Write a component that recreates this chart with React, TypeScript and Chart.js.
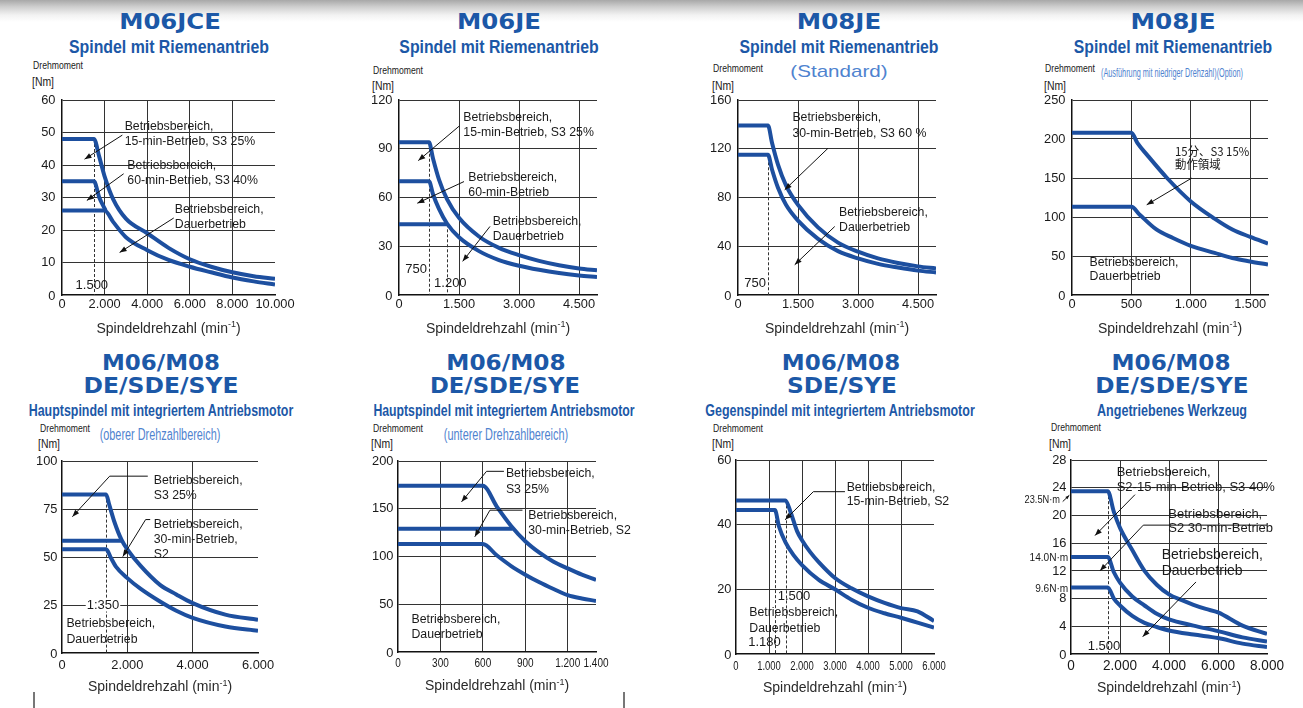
import React, { useEffect, useRef } from 'react';
import { Chart, registerables } from 'chart.js';

Chart.register(...registerables);

type Pt = [number, number];

// ================= DATA =================
// M06JCE – Spindel mit Riemenantrieb
const M06JCE_X_TICKS = [0, 2000, 4000, 6000, 8000, 10000];
const M06JCE_X_LABELS = ['0', '2.000', '4.000', '6.000', '8.000', '10.000'];
const M06JCE_Y_TICKS = [0, 10, 20, 30, 40, 50, 60];
const M06JCE_S3_25: Pt[] = [[0, 48], [1500, 48], [1750, 42.5], [2000, 36.5], [2400, 29.5], [3000, 23.5], [4000, 19], [5000, 14.5], [6000, 11], [7000, 8.7], [8000, 7], [9000, 5.8], [10000, 5]];
const M06JCE_S3_40: Pt[] = [[0, 35], [1500, 35], [1750, 30], [2050, 26]];
const M06JCE_DAUER: Pt[] = [[0, 26], [2000, 26], [2400, 22.5], [3000, 17.8], [4000, 13.8], [5000, 10.8], [6000, 8.7], [7000, 7], [8000, 5.4], [9000, 4.2], [10000, 3.2]];

// M06JE – Spindel mit Riemenantrieb
const M06JE_X_TICKS = [0, 1500, 3000, 4500];
const M06JE_X_LABELS = ['0', '1.500', '3.000', '4.500'];
const M06JE_Y_TICKS = [0, 30, 60, 90, 120];
const M06JE_S3_25: Pt[] = [[0, 94], [750, 94], [850, 84], [1000, 71], [1200, 59], [1500, 47.5], [2000, 36], [2500, 29], [3000, 24.5], [3500, 21], [4000, 18.3], [4500, 16.3], [4950, 15.2]];
const M06JE_60MIN: Pt[] = [[0, 70], [750, 70], [850, 62], [1000, 53], [1200, 44], [1500, 35.5], [2000, 27], [2500, 21.5], [3000, 18], [3500, 15.5], [4000, 13.5], [4500, 12], [4950, 11]];
const M06JE_DAUER: Pt[] = [[0, 43.5], [1200, 43.5]];

// M08JE – Standard
const M08JE_X_TICKS = [0, 1500, 3000, 4500];
const M08JE_X_LABELS = ['0', '1.500', '3.000', '4.500'];
const M08JE_Y_TICKS = [0, 40, 80, 120, 160];
const M08JE_S3_60: Pt[] = [[0, 139], [750, 139], [850, 125], [1000, 107], [1200, 90], [1500, 74], [2000, 55.5], [2500, 43], [3000, 35.5], [3500, 30], [4000, 26.3], [4500, 23.5], [4950, 21.8]];
const M08JE_DAUER: Pt[] = [[0, 115], [750, 115], [850, 103], [1000, 88], [1200, 74], [1500, 61], [2000, 46], [2500, 36], [3000, 30], [3500, 25.5], [4000, 22.5], [4500, 20], [4950, 18.5]];

// M08JE – niedrige Drehzahl (Option)
const M08JEL_X_TICKS = [0, 500, 1000, 1500];
const M08JEL_X_LABELS = ['0', '500', '1.000', '1.500'];
const M08JEL_Y_TICKS = [0, 50, 100, 150, 200, 250];
const M08JEL_S3_15: Pt[] = [[0, 208], [500, 208], [550, 195], [630, 180], [800, 150], [1000, 120], [1200, 98], [1350, 84], [1500, 74.5], [1650, 66]];
const M08JEL_DAUER: Pt[] = [[0, 113], [500, 113], [570, 103], [710, 84], [850, 73], [1000, 63], [1200, 54], [1350, 47.5], [1500, 43], [1650, 39]];

// Hauptspindel – oberer Drehzahlbereich
const HSO_X_TICKS = [0, 2000, 4000, 6000];
const HSO_X_LABELS = ['0', '2.000', '4.000', '6.000'];
const HSO_Y_TICKS = [0, 25, 50, 75, 100];
const HSO_S3_25: Pt[] = [[0, 82.5], [1350, 82.5], [1450, 77], [1600, 68.5], [1820, 59], [2000, 54], [2400, 45.5], [3000, 35.5], [3500, 30.5], [4000, 26], [5000, 20], [6000, 17.3]];
const HSO_S2_30: Pt[] = [[0, 58.5], [1820, 58.5]];
const HSO_DAUER: Pt[] = [[0, 54], [1350, 54], [1500, 49.5], [1650, 45], [2000, 39], [2400, 33.5], [3000, 26.8], [3500, 22], [4000, 18.3], [5000, 13.8], [6000, 11.6]];

// Hauptspindel – unterer Drehzahlbereich
const HSU_X_TICKS = [0, 300, 600, 900, 1200, 1400];
const HSU_X_LABELS = ['0', '300', '600', '900', '1.200', '1.400'];
const HSU_Y_TICKS = [0, 50, 100, 150, 200];
const HSU_S3_25: Pt[] = [[0, 174], [600, 174], [700, 152], [800, 132], [900, 116], [1000, 104], [1100, 94.5], [1200, 87.5], [1300, 81], [1400, 75.5]];
const HSU_S2_30: Pt[] = [[0, 129], [810, 129]];
const HSU_DAUER: Pt[] = [[0, 113], [600, 113], [700, 101], [800, 90], [900, 81], [1000, 73], [1100, 66], [1200, 59.5], [1300, 56], [1400, 53.5]];

// Gegenspindel
const GS_X_TICKS = [0, 1000, 2000, 3000, 4000, 5000, 6000];
const GS_X_LABELS = ['0', '1.000', '2.000', '3.000', '4.000', '5.000', '6.000'];
const GS_Y_TICKS = [0, 20, 40, 60];
const GS_S2_15: Pt[] = [[0, 47.5], [1500, 47.5], [1650, 44], [1850, 38], [2000, 35.2], [2250, 31.5], [2500, 28.5], [3000, 23.5], [3500, 20.3], [4000, 17.8], [4500, 15.8], [5000, 14.2], [5500, 13.2], [6000, 10.2]];
const GS_DAUER: Pt[] = [[0, 44.5], [1180, 44.5], [1300, 39.5], [1500, 34.5], [1750, 30.5], [2000, 27.5], [2500, 23], [3000, 20], [3500, 16.8], [4000, 14.3], [4500, 12.6], [5000, 11.2], [5500, 9.7], [6000, 8.2]];

// Angetriebenes Werkzeug
const WZ_X_TICKS = [0, 2000, 4000, 6000, 8000];
const WZ_X_LABELS = ['0', '2.000', '4.000', '6.000', '8.000'];
const WZ_Y_TICKS = [0, 4, 8, 12, 16, 20, 24, 28];
const WZ_S3_40: Pt[] = [[0, 23.5], [1500, 23.5], [1750, 20.5], [2000, 18.2], [2500, 15], [3000, 12], [3500, 10], [4000, 8.6], [4500, 7.8], [5000, 7.1], [5500, 6.5], [6000, 6], [7000, 4.1], [8000, 2.9]];
const WZ_S2_30: Pt[] = [[0, 14], [1500, 14], [1750, 11.8], [2000, 10.3], [2500, 8.3], [3000, 7], [3500, 5.8], [4000, 5], [5000, 4.1], [6000, 3.3], [7000, 2.4], [8000, 1.8]];
const WZ_DAUER: Pt[] = [[0, 9.6], [1500, 9.6], [1750, 8], [2000, 7], [2500, 5.5], [3000, 4.5], [3500, 3.9], [4000, 3.4], [5000, 2.8], [6000, 2.3], [7000, 1.5], [8000, 1]];

// ================= STYLE =================
const FONT = '"Liberation Sans", Arial, Helvetica, sans-serif';
const TITLE_FONT = '"DejaVu Sans", "Liberation Sans", sans-serif';
const CJK_FONT = '"Noto Sans CJK JP", "Noto Sans CJK SC", sans-serif';
const CURVE = '#1d4f9f';
const GRID = '#333333';
const AXIS = '#111111';
const TEXT = '#1a1a1a';
const TITLE = '#1c58a7';
const LIGHT = '#4f83cf';
const PADL = 50, PADT = 10, PADR = 42, PADB = 48;
const NOTE_SIZE = 12.3;

interface Note { x: number; y: number; lines: string[]; size?: number; lh?: number; align?: CanvasTextAlign; sx?: number; bg?: boolean; font?: string }
interface Arrow { pts: Pt[]; head?: number }
interface Dash { x: number; y: number }
interface Panel {
  plot: [number, number, number, number];
  xMax: number; yMax: number;
  xTicks: number[]; xLabels: string[]; yTicks: number[];
  xTick: { size: number; sx: number; dy: number };
  yTick: { size: number; sx: number; dx: number };
  titleDy: number;
  series: Pt[][];
  dashes: Dash[];
  notes: Note[];
  arrows: Arrow[];
}

const ROW1_XT = { size: 13.5, sx: 0.95, dy: 9.5 };
const ROW1_YT = { size: 13.5, sx: 0.95, dx: 6.5 };
const ROW2_XT = { size: 13.5, sx: 0.95, dy: 12 };
const ROW2_YT = { size: 13.5, sx: 0.95, dx: 4.5 };

const PANELS: Panel[] = [
  {
    plot: [62, 100, 275, 295], xMax: 10000, yMax: 60,
    xTicks: M06JCE_X_TICKS, xLabels: M06JCE_X_LABELS, yTicks: M06JCE_Y_TICKS,
    xTick: ROW1_XT, yTick: ROW1_YT, titleDy: 34,
    series: [M06JCE_S3_25, M06JCE_S3_40, M06JCE_DAUER],
    dashes: [{ x: 1500, y: 48 }],
    notes: [
      { x: 2941, y: 51.8, lines: ['Betriebsbereich,', '15-min-Betrieb, S3 25%'] },
      { x: 3068, y: 39.8, lines: ['Betriebsbereich,', '60-min-Betrieb, S3 40%'] },
      { x: 5294, y: 26.2, lines: ['Betriebsbereich,', 'Dauerbetrieb'] },
      { x: 1400, y: 2.9, lines: ['1.500'], align: 'center', size: 13 },
    ],
    arrows: [
      { pts: [[2833, 49.2], [1059, 41.8]] },
      { pts: [[2894, 37.3], [1167, 29.1]] },
      { pts: [[5247, 23.7], [2706, 13.1]] },
    ],
  },
  {
    plot: [399, 100, 597, 295], xMax: 4950, yMax: 120,
    xTicks: M06JE_X_TICKS, xLabels: M06JE_X_LABELS, yTicks: M06JE_Y_TICKS,
    xTick: ROW1_XT, yTick: ROW1_YT, titleDy: 34,
    series: [M06JE_S3_25, M06JE_60MIN, M06JE_DAUER],
    dashes: [{ x: 750, y: 90 }, { x: 1200, y: 43.5 }],
    notes: [
      { x: 1608, y: 109.4, lines: ['Betriebsbereich,', '15-min-Betrieb, S3 25%'], lh: 15.3 },
      { x: 1733, y: 72.5, lines: ['Betriebsbereich,', '60-min-Betrieb'], lh: 15.3 },
      { x: 2342, y: 45.2, lines: ['Betriebsbereich,', 'Dauerbetrieb'], lh: 15.3 },
      { x: 700, y: 16, lines: ['750'], align: 'right', size: 13 },
      { x: 1283, y: 6.9, lines: ['1.200'], align: 'center', size: 13 },
    ],
    arrows: [
      { pts: [[1508, 104], [483, 82.7]] },
      { pts: [[1625, 69.8], [458, 56.5]] },
      { pts: [[2275, 42.2], [1592, 20.7]] },
    ],
  },
  {
    plot: [738, 100, 936, 295], xMax: 4950, yMax: 160,
    xTicks: M08JE_X_TICKS, xLabels: M08JE_X_LABELS, yTicks: M08JE_Y_TICKS,
    xTick: ROW1_XT, yTick: ROW1_YT, titleDy: 34,
    series: [M08JE_S3_60, M08JE_DAUER],
    dashes: [{ x: 750, y: 113 }],
    notes: [
      { x: 1360, y: 145.5, lines: ['Betriebsbereich,', '30-min-Betrieb, S3 60 %'], lh: 15.5 },
      { x: 2525, y: 67.2, lines: ['Betriebsbereich,', 'Dauerbetrieb'], lh: 15 },
      { x: 700, y: 9.8, lines: ['750'], align: 'right', size: 13 },
    ],
    arrows: [
      { pts: [[2250, 120.4], [1168, 86.3]] },
      { pts: [[2418, 56.2], [1418, 24.8]] },
    ],
  },
  {
    plot: [1072, 100, 1268, 295], xMax: 1650, yMax: 250,
    xTicks: M08JEL_X_TICKS, xLabels: M08JEL_X_LABELS, yTicks: M08JEL_Y_TICKS,
    xTick: ROW1_XT, yTick: ROW1_YT, titleDy: 34,
    series: [M08JEL_S3_15, M08JEL_DAUER],
    dashes: [],
    notes: [
      { x: 867, y: 183.8, lines: ['15分、S3 15%', '動作領域'], lh: 13.3, size: 12, font: CJK_FONT, sx: 0.95 },
      { x: 148, y: 41, lines: ['Betriebsbereich,', 'Dauerbetrieb'], lh: 14 },
    ],
    arrows: [
      { pts: [[1007, 149.8], [629, 115.6]] },
    ],
  },
  {
    plot: [62, 461, 258, 653], xMax: 6000, yMax: 100,
    xTicks: HSO_X_TICKS, xLabels: HSO_X_LABELS, yTicks: HSO_Y_TICKS,
    xTick: ROW2_XT, yTick: ROW2_YT, titleDy: 34.5,
    series: [HSO_S3_25, HSO_S2_30, HSO_DAUER],
    dashes: [{ x: 1350, y: 82.5 }],
    notes: [
      { x: 2807, y: 90, lines: ['Betriebsbereich,', 'S3 25%'], lh: 15 },
      { x: 2807, y: 67.1, lines: ['Betriebsbereich,', '30-min-Betrieb,', 'S2'], lh: 15.2 },
      { x: 135, y: 15.1, lines: ['Betriebsbereich,', 'Dauerbetrieb'], lh: 15.5 },
      { x: 1255, y: 25, lines: ['1:350'], align: 'center', bg: true, size: 13 },
    ],
    arrows: [
      { pts: [[2626, 92.1], [1460, 92.1], [318, 71]] },
      { pts: [[2700, 69.5], [2560, 69.5], [1861, 50.2]] },
    ],
  },
  {
    plot: [398, 461, 596, 652], xMax: 1400, yMax: 200,
    xTicks: HSU_X_TICKS, xLabels: HSU_X_LABELS, yTicks: HSU_Y_TICKS,
    xTick: { size: 12.5, sx: 0.8, dy: 12 }, yTick: ROW2_YT, titleDy: 34.5,
    series: [HSU_S3_25, HSU_S2_30, HSU_DAUER],
    dashes: [],
    notes: [
      { x: 763, y: 186.8, lines: ['Betriebsbereich,', 'S3 25%'], lh: 15.7 },
      { x: 921, y: 143.3, lines: ['Betriebsbereich,', '30-min-Betrieb, S2'], lh: 15 },
      { x: 95, y: 33.7, lines: ['Betriebsbereich,', 'Dauerbetrieb'], lh: 14.5 },
    ],
    arrows: [
      { pts: [[749, 189.2], [626, 189.2], [449, 157.2]] },
      { pts: [[880, 148.5], [650, 148.5], [543, 120.7]] },
    ],
  },
  {
    plot: [736, 460, 934, 654], xMax: 6000, yMax: 60,
    xTicks: GS_X_TICKS, xLabels: GS_X_LABELS, yTicks: GS_Y_TICKS,
    xTick: { size: 13.5, sx: 0.7, dy: 12 }, yTick: ROW2_YT, titleDy: 34.5,
    series: [GS_S2_15, GS_DAUER],
    dashes: [{ x: 1180, y: 44.5 }, { x: 1500, y: 47.5 }],
    notes: [
      { x: 3353, y: 51.4, lines: ['Betriebsbereich,', '15-min-Betrieb, S2'], lh: 14.2 },
      { x: 402, y: 12.7, lines: ['Betriebsbereich,', 'Dauerbetrieb'], lh: 15.7 },
      { x: 1755, y: 17.8, lines: ['1.500'], align: 'center', size: 13 },
      { x: 865, y: 3.6, lines: ['1.180'], align: 'center', size: 13 },
    ],
    arrows: [
      { pts: [[3302, 50.2], [2344, 50.2], [1489, 41.5]] },
    ],
  },
  {
    plot: [1071, 460, 1267, 654], xMax: 8000, yMax: 28,
    xTicks: WZ_X_TICKS, xLabels: WZ_X_LABELS, yTicks: WZ_Y_TICKS,
    xTick: { size: 14, sx: 0.97, dy: 12 }, yTick: ROW2_YT, titleDy: 34.5,
    series: [WZ_S3_40, WZ_S2_30, WZ_DAUER],
    dashes: [{ x: 1500, y: 23.5 }],
    notes: [
      { x: 1865, y: 26.2, lines: ['Betriebsbereich,', 'S2-15-min-Betrieb, S3 40%'], size: 13, lh: 15 },
      { x: 3971, y: 20.1, lines: ['Betriebsbereich,', 'S2 30-min-Betrieb'], size: 13, lh: 14 },
      { x: 3702, y: 14.2, lines: ['Betriebsbereich,', 'Dauerbetrieb'], size: 14, lh: 16 },
      { x: 1347, y: 1.1, lines: ['1.500'], align: 'center', size: 13 },
      { x: -449, y: 22.2, lines: ['23.5N·m'], align: 'right', size: 10.5, sx: 0.88 },
      { x: -110, y: 13.8, lines: ['14.0N·m'], align: 'right', size: 11, sx: 0.92 },
      { x: -110, y: 9.4, lines: ['9.6N·m'], align: 'right', size: 11, sx: 0.92 },
    ],
    arrows: [
      { pts: [[2612, 23], [980, 17.1]] },
      { pts: [[8000, 18.6], [2951, 18.6], [1184, 12]] },
      { pts: [[5102, 10.4], [2927, 2.5]] },
      { pts: [[-339, 22.0], [-69, 22.9]], head: 4 },
    ],
  },
];

// ================= HTML LABELS (layout) =================
type Lbl = [string, number, number, number];
const MAIN_R1: Lbl[] = [['M06JCE', 170, 21.7, 101.7], ['M06JE', 499, 21.7, 84], ['M08JE', 838.8, 21.7, 84.3], ['M08JE', 1172.5, 21.7, 85]];
const SUB_R1: Lbl[] = [
  ['Spindel mit Riemenantrieb', 169.3, 45.5, 200], ['Spindel mit Riemenantrieb', 498.7, 45.5, 199.3],
  ['Spindel mit Riemenantrieb', 838.8, 45.5, 199], ['Spindel mit Riemenantrieb', 1172.5, 45.5, 198.3],
];
const MAIN_R2: Lbl[] = [
  ['M06/M08', 160.8, 363, 118], ['DE/SDE/SYE', 160.8, 386.3, 155],
  ['M06/M08', 506.3, 363, 119.3], ['DE/SDE/SYE', 505, 386.3, 150],
  ['M06/M08', 840.8, 363, 118.3], ['SDE/SYE', 841.7, 386.3, 110],
  ['M06/M08', 1171.2, 363, 119], ['DE/SDE/SYE', 1171.7, 386.3, 153.3],
];
const SUB_R2: Lbl[] = [
  ['Hauptspindel mit integriertem Antriebsmotor', 160.8, 410, 265],
  ['Hauptspindel mit integriertem Antriebsmotor', 504.2, 410, 261.7],
  ['Gegenspindel mit integriertem Antriebsmotor', 840, 410, 270],
  ['Angetriebenes Werkzeug', 1171.7, 410, 150],
];
const LIGHT_LBL: [string, number, number, number, number][] = [
  ['(Standard)', 838.7, 71.3, 97.3, 17],
  ['(Ausführung mit niedriger Drehzahl)(Option)', 1172, 72, 142, 13],
  ['(oberer Drehzahlbereich)', 160.3, 435, 120.7, 16],
  ['(unterer Drehzahlbereich)', 506, 435, 124.3, 16],
];
const DREH: [number, number][] = [[58, 65], [398.3, 70], [738.3, 68.3], [1070, 68.3], [64.7, 427.7], [398, 427.7], [738.3, 427.7], [1075.8, 426.7]];
const NM: [number, number][] = [[42.5, 81.7], [382.8, 86], [723.3, 86], [1054.7, 86], [48.7, 444], [382.3, 444], [723.3, 444], [1060, 444]];

let measCtx: CanvasRenderingContext2D | null = null;
function measure(text: string, font: string): number {
  if (!measCtx) measCtx = document.createElement('canvas').getContext('2d');
  if (!measCtx) return 0;
  measCtx.font = font;
  return measCtx.measureText(text).width;
}

function Fit({ text, cx, cy, w, size, weight, family, color }: { text: string; cx: number; cy: number; w: number; size: number; weight: string; family: string; color: string }) {
  const m = measure(text, `${weight} ${size}px ${family}`);
  const k = m > 0 ? w / m : 1;
  return (
    <div style={{ position: 'absolute', left: cx, top: cy, transform: `translate(-50%, -50%) scaleX(${k})`, fontSize: size, fontWeight: weight as any, fontFamily: family, color, whiteSpace: 'nowrap', lineHeight: 1 }}>
      {text}
    </div>
  );
}

// ================= CANVAS DRAWING =================
function drawText(ctx: CanvasRenderingContext2D, s: string, x: number, y: number, size: number, align: CanvasTextAlign, sx: number, family = FONT, color = TEXT, bg = false) {
  ctx.save();
  ctx.font = `${size}px ${family}`;
  ctx.textBaseline = 'middle';
  ctx.textAlign = align;
  ctx.translate(x, y);
  ctx.scale(sx, 1);
  if (bg) {
    const w = ctx.measureText(s).width;
    const x0 = align === 'center' ? -w / 2 : align === 'right' ? -w : 0;
    ctx.fillStyle = '#ffffff';
    ctx.fillRect(x0 - 1, -size / 2, w + 2, size);
  }
  ctx.fillStyle = color;
  ctx.fillText(s, 0, 0);
  ctx.restore();
}

function drawArrow(ctx: CanvasRenderingContext2D, pts: Pt[], head: number) {
  ctx.save();
  ctx.strokeStyle = '#111';
  ctx.fillStyle = '#111';
  ctx.lineWidth = 1;
  ctx.beginPath();
  ctx.moveTo(pts[0][0], pts[0][1]);
  for (let i = 1; i < pts.length; i++) ctx.lineTo(pts[i][0], pts[i][1]);
  ctx.stroke();
  const [x1, y1] = pts[pts.length - 2];
  const [x2, y2] = pts[pts.length - 1];
  const a = Math.atan2(y2 - y1, x2 - x1);
  const hw = head * 0.38;
  const c = Math.cos(a), s = Math.sin(a);
  ctx.beginPath();
  ctx.moveTo(x2, y2);
  ctx.lineTo(x2 - head * c + hw * s, y2 - head * s - hw * c);
  ctx.lineTo(x2 - head * c - hw * s, y2 - head * s + hw * c);
  ctx.closePath();
  ctx.fill();
  ctx.restore();
}

function makeDecor(p: Panel) {
  return {
    id: 'decor',
    beforeDatasetsDraw(chart: any) {
      const ctx: CanvasRenderingContext2D = chart.ctx;
      const X = (v: number) => chart.scales.x.getPixelForValue(v);
      const Y = (v: number) => chart.scales.y.getPixelForValue(v);
      ctx.save();
      ctx.strokeStyle = '#333';
      ctx.lineWidth = 1;
      ctx.setLineDash([3, 2]);
      p.dashes.forEach((d) => {
        const px = Math.round(X(d.x)) + 0.5;
        ctx.beginPath();
        ctx.moveTo(px, Y(d.y));
        ctx.lineTo(px, Y(0));
        ctx.stroke();
      });
      ctx.restore();
    },
    afterDraw(chart: any) {
      const ctx: CanvasRenderingContext2D = chart.ctx;
      const X = (v: number) => chart.scales.x.getPixelForValue(v);
      const Y = (v: number) => chart.scales.y.getPixelForValue(v);
      // tick labels
      p.xTicks.forEach((v, i) => drawText(ctx, p.xLabels[i], X(v), Y(0) + p.xTick.dy, p.xTick.size, 'center', p.xTick.sx));
      p.yTicks.forEach((v) => drawText(ctx, String(v), X(0) - p.yTick.dx, Y(v) + (v === 0 ? 1.5 : 0), p.yTick.size, 'right', p.yTick.sx));
      // axis title with superscript
      const cx = (X(0) + X(p.xMax)) / 2;
      const ty = Y(0) + p.titleDy;
      ctx.save();
      const fMain = `14px ${FONT}`, fSup = `9px ${FONT}`;
      const t1 = 'Spindeldrehzahl (min', t2 = '-1', t3 = ')';
      ctx.font = fMain;
      const w1 = ctx.measureText(t1).width, w3 = ctx.measureText(t3).width;
      ctx.font = fSup;
      const w2 = ctx.measureText(t2).width;
      let sx0 = cx - (w1 + w2 + w3) / 2;
      ctx.textBaseline = 'middle';
      ctx.textAlign = 'left';
      ctx.fillStyle = '#2a2a2a';
      ctx.font = fMain; ctx.fillText(t1, sx0, ty); sx0 += w1;
      ctx.font = fSup; ctx.fillText(t2, sx0, ty - 4); sx0 += w2;
      ctx.font = fMain; ctx.fillText(t3, sx0, ty);
      ctx.restore();
      // arrows
      p.arrows.forEach((a) => drawArrow(ctx, a.pts.map(([x, y]) => [X(x), Y(y)] as Pt), a.head ?? 7));
      // notes
      p.notes.forEach((n) => {
        const lh = n.lh ?? 15;
        n.lines.forEach((line, i) => drawText(ctx, line, X(n.x), Y(n.y) + i * lh, n.size ?? NOTE_SIZE, n.align ?? 'left', n.sx ?? 1, n.font ?? FONT, TEXT, !!n.bg));
      });
    },
  };
}

function PanelChart({ p }: { p: Panel }) {
  const ref = useRef<HTMLCanvasElement>(null);
  const [L, T, R, B] = p.plot;
  const cl = L - PADL, ct = T - PADT;
  const cw = R - L + PADL + PADR, ch = B - T + PADT + PADB;
  useEffect(() => {
    if (!ref.current) return;
    const gridColor = (hideMaxOf: number | null) => (c: any) => {
      const v = c.tick ? c.tick.value : null;
      if (v === 0) return 'rgba(0,0,0,0)';
      if (hideMaxOf !== null && v !== null && v >= hideMaxOf) return 'rgba(0,0,0,0)';
      return GRID;
    };
    const chart = new Chart(ref.current, {
      type: 'scatter',
      data: {
        datasets: p.series.map((s) => ({
          data: s.map(([x, y]) => ({ x, y })),
          showLine: true,
          borderColor: CURVE,
          backgroundColor: CURVE,
          borderWidth: 4,
          pointRadius: 0,
          pointHoverRadius: 0,
          cubicInterpolationMode: 'monotone',
          borderJoinStyle: 'round',
          fill: false,
        })),
      } as any,
      options: {
        animation: false,
        responsive: false,
        events: [],
        layout: { padding: { left: PADL, top: PADT, right: PADR, bottom: PADB } },
        plugins: { legend: { display: false }, tooltip: { enabled: false } },
        scales: {
          x: {
            type: 'linear', min: 0, max: p.xMax,
            afterBuildTicks: (s: any) => { s.ticks = p.xTicks.map((v) => ({ value: v })); },
            ticks: { display: false },
            grid: { drawTicks: false, color: gridColor(p.xMax), lineWidth: 1 },
            border: { display: true, color: AXIS, width: 1.5 },
          },
          y: {
            type: 'linear', min: 0, max: p.yMax,
            afterBuildTicks: (s: any) => { s.ticks = p.yTicks.map((v) => ({ value: v })); },
            ticks: { display: false },
            grid: { drawTicks: false, color: gridColor(null), lineWidth: 1 },
            border: { display: true, color: AXIS, width: 1.5 },
          },
        },
      } as any,
      plugins: [makeDecor(p) as any],
    });
    return () => chart.destroy();
  }, [p]);
  return <canvas ref={ref} width={cw} height={ch} style={{ position: 'absolute', left: cl, top: ct, width: cw, height: ch }} />;
}

export default function App() {
  const condensed = FONT;
  return (
    <div style={{ position: 'absolute', left: 0, top: 0, width: 1303, height: 708, overflow: 'hidden', background: 'linear-gradient(to bottom, #a8a8a8 0px, #cfcfcf 7px, #f2f2f2 15px, #ffffff 22px)', fontFamily: FONT }}>
      {MAIN_R1.map(([t, x, y, w], i) => <Fit key={'m1' + i} text={t} cx={x} cy={y} w={w} size={21} weight="bold" family={TITLE_FONT} color={TITLE} />)}
      {SUB_R1.map(([t, x, y, w], i) => <Fit key={'s1' + i} text={t} cx={x} cy={y} w={w} size={19} weight="bold" family={condensed} color={TITLE} />)}
      {MAIN_R2.map(([t, x, y, w], i) => <Fit key={'m2' + i} text={t} cx={x} cy={y} w={w} size={22} weight="bold" family={TITLE_FONT} color={TITLE} />)}
      {SUB_R2.map(([t, x, y, w], i) => <Fit key={'s2' + i} text={t} cx={x} cy={y} w={w} size={17} weight="bold" family={condensed} color={TITLE} />)}
      {LIGHT_LBL.map(([t, x, y, w, s], i) => <Fit key={'l' + i} text={t} cx={x} cy={y} w={w} size={s} weight="normal" family={FONT} color={LIGHT} />)}
      {DREH.map(([x, y], i) => <Fit key={'d' + i} text="Drehmoment" cx={x} cy={y} w={50} size={11} weight="normal" family={FONT} color={TEXT} />)}
      {NM.map(([x, y], i) => <Fit key={'n' + i} text="[Nm]" cx={x} cy={y} w={22} size={12.5} weight="normal" family={FONT} color={TEXT} />)}
      {PANELS.map((p, i) => <PanelChart key={'p' + i} p={p} />)}
      <div style={{ position: 'absolute', left: 33, top: 692, width: 1.5, height: 16, background: '#777' }} />
      <div style={{ position: 'absolute', left: 623, top: 692, width: 1.5, height: 16, background: '#777' }} />
    </div>
  );
}
